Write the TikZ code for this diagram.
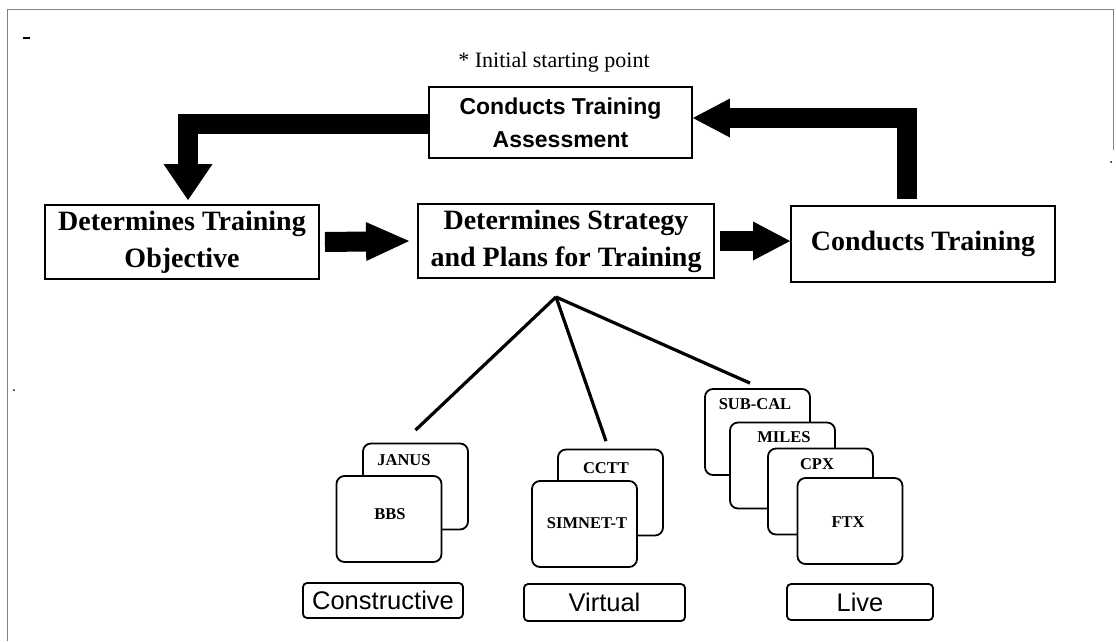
\documentclass[tikz,border=0pt]{standalone}
\usepackage{fontspec}
\setmainfont{Liberation Serif}
\setsansfont{Liberation Sans}
\usetikzlibrary{arrows.meta,calc}

\begin{document}
\begin{tikzpicture}[x=1pt,y=-1pt,
  stage/.style={draw, line width=1.9pt, align=center, inner sep=0pt,
    font=\bfseries\fontsize{28}{37}\selectfont},
  assessbox/.style={draw, line width=1.9pt, align=center, inner sep=0pt,
    font=\sffamily\bfseries\fontsize{23}{33}\selectfont},
  card/.style={draw, line width=1.8pt, rounded corners=8pt, fill=white,
    minimum width=105pt, minimum height=86pt, inner sep=0pt},
  cardlabel/.style={anchor=base, inner sep=0pt,
    font=\bfseries\fontsize{16.5}{18}\selectfont},
  category/.style={draw, line width=1.8pt, rounded corners=4pt, inner sep=0pt,
    font=\sffamily\fontsize{25.5}{28}\selectfont},
  bigarrow/.style={line width=20pt,
    -{Triangle[width=39pt,length=37pt,line width=0pt]}},
  branch/.style={line width=3.2pt},
]
\useasboundingbox (0,0) rectangle (1116,641);

% page frame and stray marks
\draw[gray, line width=0.8pt] (7,641) -- (7,9) -- (1113,9) -- (1113,150);
\draw[line width=2pt] (23,38) -- (30,38);
\fill (1111,162) circle (1pt);
\fill (14,390) circle (1pt);

% training cycle
\node[font=\fontsize{22}{24}\selectfont, anchor=base, inner sep=0pt] (start) at (554,67) {* Initial starting point};
\node[assessbox, minimum width=263pt, minimum height=71pt] (assess) at (560.5,122.5) {Conducts Training\\Assessment};
\node[stage, minimum width=274pt, minimum height=74pt] (obj) at (182,242) {Determines Training\\Objective};
\node[stage, minimum width=296pt, minimum height=74pt] (strat) at (566,241) {Determines Strategy\\and Plans for Training};
\node[stage, minimum width=264pt, minimum height=76pt] (ct) at (923,244) {Conducts Training};

\draw[bigarrow, -{Triangle[width=39pt,length=43pt,line width=0pt]}] ($(obj.east)+(5,0)$) -- ($(strat.west)+(-8,0)$);
\draw[bigarrow] ($(strat.east)+(5,0)$) -- (strat.east -| ct.west);
\draw[bigarrow] ($(ct.north)+(-16.5,-6)$) |- ($(assess.east)+(0,-4.5)$);
\draw[bigarrow, -{Triangle[width=49pt,length=36pt,line width=0pt]}] ($(assess.west)+(0,1)$) -| ($(obj.north)+(6,-4)$);

% simulation cards
\node[card] (janus) at (415.5,486.5) {};
\node[cardlabel] (janusL) at (404,465) {JANUS};
\node[card] (bbs) at (389,519) {};
\node[cardlabel] (bbsL) at (390,519) {BBS};

\node[card] (cctt) at (610.5,492.5) {};
\node[cardlabel] (ccttL) at (606,473) {CCTT};
\node[card] (simnet) at (584.5,524) {};
\node[cardlabel] (simnetL) at (587,528) {SIMNET-T};

\node[card] (subcal) at (757.5,432) {};
\node[cardlabel] (subcalL) at (755,409) {SUB-CAL};
\node[card] (miles) at (782.5,465.5) {};
\node[cardlabel] (milesL) at (784,442) {MILES};
\node[card] (cpx) at (820.5,491.5) {};
\node[cardlabel] (cpxL) at (817,469) {CPX};
\node[card] (ftx) at (850,521) {};
\node[cardlabel] (ftxL) at (848,527) {FTX};

% branches from the planning step
\coordinate (hub) at ($(strat.south)+(-10,18)$);
\draw[branch] (hub) -- ($(janus.north)+(0,-12.5)$);
\draw[branch] (hub) -- ($(cctt.north)+(-4.5,-7.5)$);
\draw[branch] (hub) -- ($(subcal.north)+(-7.5,-5)$);

% categories
\node[category, minimum width=160pt, minimum height=35pt] (cons) at (383,600.5) {Constructive};
\node[category, minimum width=161pt, minimum height=37pt] (virt) at (604.5,602.5) {Virtual};
\node[category, minimum width=146pt, minimum height=36pt] (live) at (860,602) {Live};
\end{tikzpicture}
\end{document}
